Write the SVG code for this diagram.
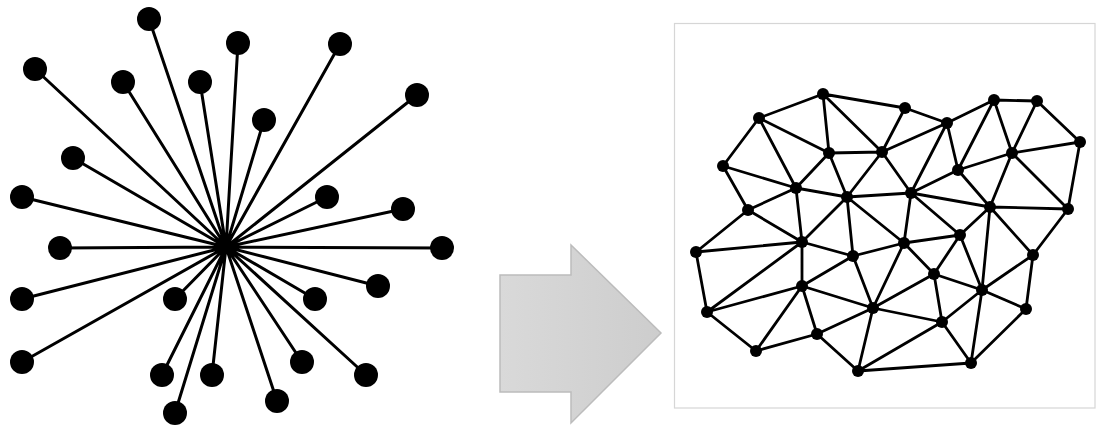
<svg xmlns="http://www.w3.org/2000/svg" width="1097" height="425" viewBox="0 0 1097 425">
<style>
.sl{stroke:#000;stroke-width:3;stroke-linecap:round}
.sn{fill:#000}
.ml{stroke:#000;stroke-width:2.8;stroke-linecap:round}
.mn{fill:#000}
</style>
<defs>
<linearGradient id="ag" x1="0" y1="0" x2="1" y2="0">
<stop offset="0" stop-color="#d9d9d9"/>
<stop offset="1" stop-color="#cdcdcd"/>
</linearGradient>
</defs>
<rect x="0" y="0" width="1097" height="425" fill="#fff"/>
<g id="star-connectors">
<path class="sl" d="M226 247L149 19M226 247L35 69M226 247L123 82M226 247L200 82M226 247L73 158M226 247L22 197M226 247L238 43M226 247L340 44M226 247L417 95M226 247L264 120M226 247L327 197M226 247L403 209M226 247L60 248M226 247L22 299M226 247L175 299M226 247L22 362M226 247L162 375M226 247L212 375M226 247L175 413M226 247L442 248M226 247L378 286M226 247L315 299M226 247L302 362M226 247L366 375M226 247L277 401"/>
</g>
<g id="star-nodes">
<circle id="s1" class="sn" cx="149" cy="19" r="12"/>
<circle id="s2" class="sn" cx="35" cy="69" r="12"/>
<circle id="s3" class="sn" cx="123" cy="82" r="12"/>
<circle id="s4" class="sn" cx="200" cy="82" r="12"/>
<circle id="s5" class="sn" cx="73" cy="158" r="12"/>
<circle id="s6" class="sn" cx="22" cy="197" r="12"/>
<circle id="s7" class="sn" cx="238" cy="43" r="12"/>
<circle id="s8" class="sn" cx="340" cy="44" r="12"/>
<circle id="s9" class="sn" cx="417" cy="95" r="12"/>
<circle id="s10" class="sn" cx="264" cy="120" r="12"/>
<circle id="s11" class="sn" cx="327" cy="197" r="12"/>
<circle id="s12" class="sn" cx="403" cy="209" r="12"/>
<circle id="s13" class="sn" cx="60" cy="248" r="12"/>
<circle id="s14" class="sn" cx="22" cy="299" r="12"/>
<circle id="s15" class="sn" cx="175" cy="299" r="12"/>
<circle id="s16" class="sn" cx="22" cy="362" r="12"/>
<circle id="s17" class="sn" cx="162" cy="375" r="12"/>
<circle id="s18" class="sn" cx="212" cy="375" r="12"/>
<circle id="s19" class="sn" cx="175" cy="413" r="12"/>
<circle id="s20" class="sn" cx="442" cy="248" r="12"/>
<circle id="s21" class="sn" cx="378" cy="286" r="12"/>
<circle id="s22" class="sn" cx="315" cy="299" r="12"/>
<circle id="s23" class="sn" cx="302" cy="362" r="12"/>
<circle id="s24" class="sn" cx="366" cy="375" r="12"/>
<circle id="s25" class="sn" cx="277" cy="401" r="12"/>
</g>
<g id="arrow">
<polygon points="500,275 571,275 571,245 661,333 571,423 571,392 500,392" fill="url(#ag)" stroke="#bcbcbc" stroke-width="1.5"/>
</g>
<g id="panel">
<rect x="674.5" y="23.5" width="420.5" height="384.5" fill="#fff" stroke="#d6d6d6" stroke-width="1.2"/>
</g>
<g id="mesh-connectors">
<path class="ml" d="M823 94L759 118M823 94L905 108M823 94L829 153M823 94L882 152
M759 118L723 166M759 118L829 153M759 118L796 188
M723 166L796 188M723 166L748 210
M829 153L882 152M829 153L796 188M829 153L847 197
M882 152L847 197M882 152L905 108M882 152L947 123M882 152L911 193
M796 188L847 197M796 188L748 210M796 188L802 242
M847 197L911 193M847 197L802 242M847 197L853 256M847 197L904 243
M748 210L696 252M748 210L802 242
M905 108L947 123
M947 123L994 100M947 123L958 170M947 123L911 193
M994 100L1037 101M994 100L1012 153M994 100L958 170
M1037 101L1080 142M1037 101L1012 153
M1080 142L1012 153M1080 142L1068 209
M1012 153L958 170M1012 153L990 207M1012 153L1068 209
M958 170L911 193M958 170L990 207
M911 193L990 207M911 193L904 243M911 193L960 235
M990 207L1068 209M990 207L960 235M990 207L982 290M990 207L1033 255
M1068 209L1033 255
M696 252L802 242M696 252L707 312
M802 242L853 256M802 242L802 286M802 242L707 312
M853 256L802 286M853 256L873 308M853 256L904 243
M802 286L707 312M802 286L873 308M802 286L817 334M802 286L756 351
M707 312L756 351
M873 308L817 334M873 308L858 371M873 308L904 243M873 308L934 274M873 308L942 322
M817 334L756 351M817 334L858 371
M858 371L942 322M858 371L971 363
M904 243L960 235M904 243L934 274
M960 235L934 274M960 235L982 290
M1033 255L982 290M1033 255L1026 309
M934 274L982 290M934 274L942 322
M982 290L1026 309M982 290L942 322M982 290L971 363
M1026 309L971 363
M942 322L971 363"/>
</g>
<g id="mesh-nodes">
<circle id="mA" class="mn" cx="823" cy="94" r="6"/>
<circle id="mB" class="mn" cx="759" cy="118" r="6"/>
<circle id="mC" class="mn" cx="723" cy="166" r="6"/>
<circle id="mD" class="mn" cx="829" cy="153" r="6"/>
<circle id="mE" class="mn" cx="882" cy="152" r="6"/>
<circle id="mF" class="mn" cx="796" cy="188" r="6"/>
<circle id="mG" class="mn" cx="847" cy="197" r="6"/>
<circle id="mH" class="mn" cx="748" cy="210" r="6"/>
<circle id="mI" class="mn" cx="905" cy="108" r="6"/>
<circle id="mJ" class="mn" cx="947" cy="123" r="6"/>
<circle id="mK" class="mn" cx="994" cy="100" r="6"/>
<circle id="mL" class="mn" cx="1037" cy="101" r="6"/>
<circle id="mM" class="mn" cx="1080" cy="142" r="6"/>
<circle id="mN" class="mn" cx="1012" cy="153" r="6"/>
<circle id="mO" class="mn" cx="958" cy="170" r="6"/>
<circle id="mP" class="mn" cx="911" cy="193" r="6"/>
<circle id="mQ" class="mn" cx="990" cy="207" r="6"/>
<circle id="mR" class="mn" cx="1068" cy="209" r="6"/>
<circle id="mS" class="mn" cx="696" cy="252" r="6"/>
<circle id="mT" class="mn" cx="802" cy="242" r="6"/>
<circle id="mU" class="mn" cx="853" cy="256" r="6"/>
<circle id="mV" class="mn" cx="802" cy="286" r="6"/>
<circle id="mW" class="mn" cx="707" cy="312" r="6"/>
<circle id="mX" class="mn" cx="873" cy="308" r="6"/>
<circle id="mY" class="mn" cx="817" cy="334" r="6"/>
<circle id="mZ" class="mn" cx="756" cy="351" r="6"/>
<circle id="ma" class="mn" cx="858" cy="371" r="6"/>
<circle id="mb" class="mn" cx="904" cy="243" r="6"/>
<circle id="mc" class="mn" cx="960" cy="235" r="6"/>
<circle id="md" class="mn" cx="1033" cy="255" r="6"/>
<circle id="me" class="mn" cx="934" cy="274" r="6"/>
<circle id="mf" class="mn" cx="982" cy="290" r="6"/>
<circle id="mg" class="mn" cx="1026" cy="309" r="6"/>
<circle id="mh" class="mn" cx="942" cy="322" r="6"/>
<circle id="mi" class="mn" cx="971" cy="363" r="6"/>
</g>
</svg>
